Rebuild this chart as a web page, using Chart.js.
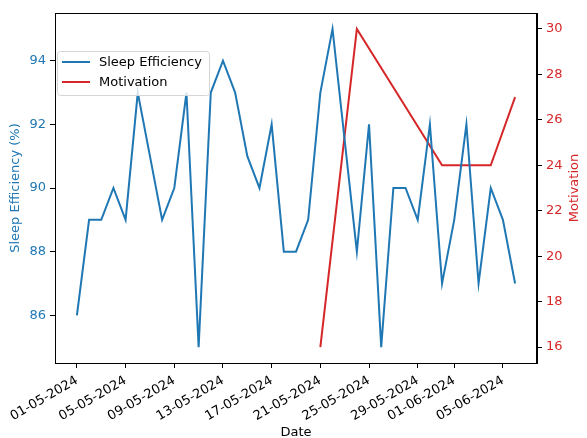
<!DOCTYPE html>
<html>
<head>
<meta charset="utf-8">
<script src="https://cdn.jsdelivr.net/npm/chart.js@4.4.1/dist/chart.umd.min.js"></script>
<style>
  html, body { margin: 0; padding: 0; background: #fff; }
  #wrap { width: 587px; height: 438px; }
</style>
</head>
<body>
<div id="wrap"><canvas id="myChart" width="587" height="438"></canvas></div>
<script>
// sleep efficiency, one value per day
const sleepDates = [
    "2024-05-01", "2024-05-02", "2024-05-03", "2024-05-04", "2024-05-05",
    "2024-05-06", "2024-05-07", "2024-05-08", "2024-05-09", "2024-05-10",
    "2024-05-11", "2024-05-12", "2024-05-13", "2024-05-14", "2024-05-15",
    "2024-05-16", "2024-05-17", "2024-05-18", "2024-05-19", "2024-05-20",
    "2024-05-21", "2024-05-22", "2024-05-23", "2024-05-24", "2024-05-25",
    "2024-05-26", "2024-05-27", "2024-05-28", "2024-05-29", "2024-05-30",
    "2024-05-31", "2024-06-01", "2024-06-02", "2024-06-03", "2024-06-04",
    "2024-06-05", "2024-06-06",
];
const sleepEfficiency = [
    86, 89, 89, 90, 89, 93, 91, 89, 90, 93,
    85, 93, 94, 93, 91, 90, 92, 88, 88, 89,
    93, 95, 91.5, 88, 92, 85, 90, 90, 89, 92,
    87, 89, 92, 87, 90, 89, 87,
];

// motivation, only a few entries
const motivationDates = ["2024-05-21", "2024-05-24", "2024-05-31", "2024-06-04", "2024-06-06"];
const motivation = [16, 30, 24, 24, 27];

// axis ticks
const dateTickLabels = [
    "01-05-2024", "05-05-2024", "09-05-2024", "13-05-2024", "17-05-2024",
    "21-05-2024", "25-05-2024", "29-05-2024", "01-06-2024", "05-06-2024",
];
const sleepTicks = [86, 88, 90, 92, 94];
const motivationTicks = [16, 18, 20, 22, 24, 26, 28, 30];

const BLUE = "#1f77b4";
const RED = "#d62728";
const FONT = "'DejaVu Sans', sans-serif";

const start = Date.UTC(2024, 4, 1);
const dayOf = iso => {
    const [y, m, d] = iso.split("-").map(Number);
    return (Date.UTC(y, m - 1, d) - start) / 86400000;
};
const dayOfLabel = lbl => {
    const [d, m, y] = lbl.split("-");
    return dayOf(`${y}-${m}-${d}`);
};

const tickDays = dateTickLabels.map(dayOfLabel);
const toPoints = (dates, values) => dates.map((d, i) => ({ x: dayOf(d), y: values[i] }));

// matplotlib style 5% margins
const pad = (lo, hi) => [lo - (hi - lo) * 0.05, hi + (hi - lo) * 0.05];
const allDays = sleepDates.map(dayOf).concat(motivationDates.map(dayOf));
const [xMin, xMax] = pad(Math.min(...allDays), Math.max(...allDays));
const [yMin, yMax] = pad(Math.min(...sleepEfficiency), Math.max(...sleepEfficiency));
const [y1Min, y1Max] = pad(Math.min(...motivation), Math.max(...motivation));

const overlay = {
    id: "overlay",
    afterDraw(chart) {
        const { ctx, chartArea: a } = chart;
        ctx.save();
        // frame
        ctx.strokeStyle = "#000";
        ctx.lineWidth = 1;
        ctx.strokeRect(a.left + 0.5, a.top + 0.5, a.right - a.left - 1, a.bottom - a.top);

        // axis titles
        ctx.font = `13px ${FONT}`;
        ctx.textAlign = "center";
        ctx.textBaseline = "middle";
        const midY = (a.top + a.bottom) / 2;
        ctx.fillStyle = BLUE;
        ctx.save();
        ctx.translate(16, midY);
        ctx.rotate(-Math.PI / 2);
        ctx.fillText("Sleep Efficiency (%)", 0, 0);
        ctx.restore();
        ctx.fillStyle = RED;
        ctx.save();
        ctx.translate(575, midY);
        ctx.rotate(-Math.PI / 2);
        ctx.fillText("Motivation", 0, 0);
        ctx.restore();
        ctx.fillStyle = "#000";
        ctx.fillText("Date", (a.left + a.right) / 2, 433);

        // legend
        const bx = 57.5, by = 51.5, bw = 152, bh = 44, r = 3;
        ctx.beginPath();
        ctx.moveTo(bx + r, by);
        ctx.lineTo(bx + bw - r, by);
        ctx.arcTo(bx + bw, by, bx + bw, by + r, r);
        ctx.lineTo(bx + bw, by + bh - r);
        ctx.arcTo(bx + bw, by + bh, bx + bw - r, by + bh, r);
        ctx.lineTo(bx + r, by + bh);
        ctx.arcTo(bx, by + bh, bx, by + bh - r, r);
        ctx.lineTo(bx, by + r);
        ctx.arcTo(bx, by, bx + r, by, r);
        ctx.closePath();
        ctx.fillStyle = "rgba(255,255,255,0.8)";
        ctx.fill();
        ctx.strokeStyle = "#d6d6d6";
        ctx.stroke();

        const items = [["Sleep Efficiency", BLUE, 62], ["Motivation", RED, 82]];
        ctx.textAlign = "left";
        items.forEach(([txt, col, y]) => {
            ctx.strokeStyle = col;
            ctx.lineWidth = 2;
            ctx.beginPath();
            ctx.moveTo(62, y);
            ctx.lineTo(90, y);
            ctx.stroke();
            ctx.fillStyle = "#000";
            ctx.fillText(txt, 99, y + 1);
        });
        ctx.restore();
    },
};

const axisLine = { display: true, color: "#000", width: 1 };
const tickGrid = { drawOnChartArea: false, drawTicks: true, tickLength: 5, color: "#000" };

const ctx = document.getElementById("myChart").getContext("2d");
const chart = new Chart(ctx, {
    type: "line",
    data: {
        datasets: [
            {
                label: "Sleep Efficiency",
                data: toPoints(sleepDates, sleepEfficiency),
                borderColor: BLUE,
                borderWidth: 2,
                pointRadius: 0,
                yAxisID: "y",
            },
            {
                label: "Motivation",
                data: toPoints(motivationDates, motivation),
                borderColor: RED,
                borderWidth: 2,
                pointRadius: 0,
                yAxisID: "y1",
            },
        ],
    },
    options: {
        responsive: false,
        animation: false,
        devicePixelRatio: 1,
        layout: { padding: { top: 13, left: 0, right: 0, bottom: 0 } },
        plugins: { legend: { display: false }, tooltip: { enabled: false } },
        scales: {
            x: {
                type: "linear",
                min: xMin,
                max: xMax,
                border: axisLine,
                grid: tickGrid,
                afterBuildTicks: s => { s.ticks = tickDays.map(v => ({ value: v })); },
                afterFit: s => { s.height = 75; },
                ticks: {
                    autoSkip: false,
                    minRotation: 30,
                    maxRotation: 30,
                    padding: 5,
                    color: "#000",
                    font: { family: FONT, size: 13 },
                    callback: v => dateTickLabels[tickDays.indexOf(v)],
                },
            },
            y: {
                position: "left",
                min: yMin,
                max: yMax,
                border: axisLine,
                grid: tickGrid,
                afterBuildTicks: s => { s.ticks = sleepTicks.map(v => ({ value: v })); },
                afterFit: s => { s.width = 55; },
                ticks: { padding: 4, color: BLUE, font: { family: FONT, size: 13 } },
            },
            y1: {
                position: "right",
                min: y1Min,
                max: y1Max,
                border: axisLine,
                grid: tickGrid,
                afterBuildTicks: s => { s.ticks = motivationTicks.map(v => ({ value: v })); },
                afterFit: s => { s.width = 50; },
                ticks: { padding: 4, color: RED, font: { family: FONT, size: 13 } },
            },
        },
    },
    plugins: [overlay],
});
</script>
</body>
</html>
